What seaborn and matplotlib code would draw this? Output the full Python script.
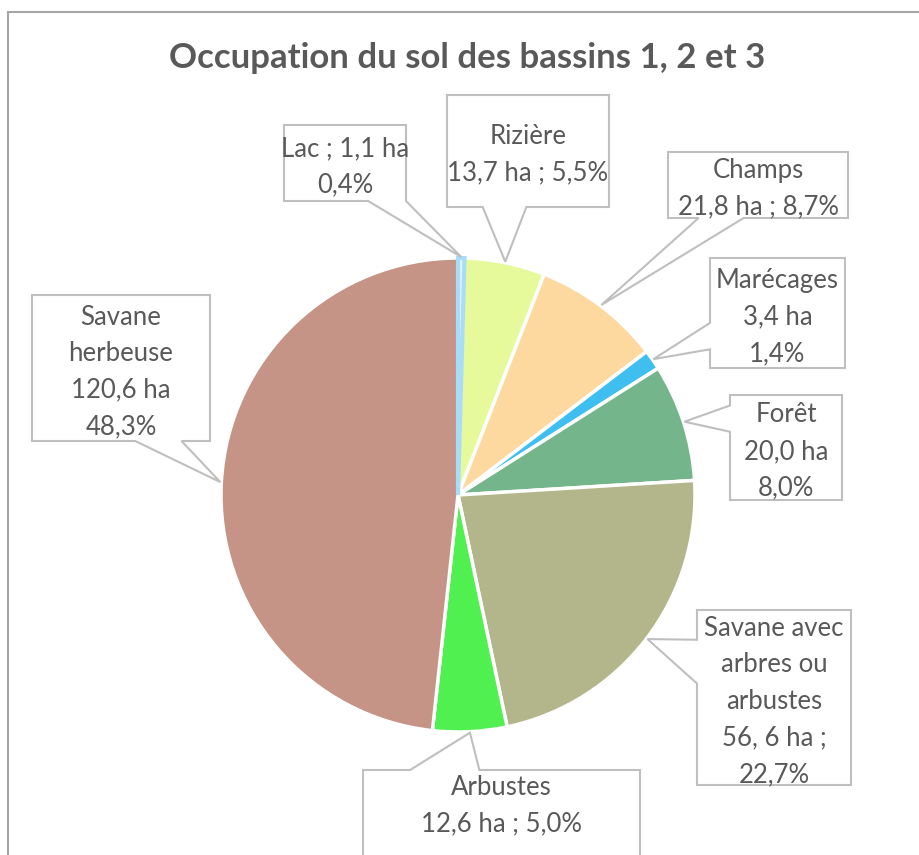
import numpy as np
import matplotlib
matplotlib.use("Agg")
import matplotlib.pyplot as plt
from matplotlib.patches import Polygon, Rectangle
import seaborn as sns

# Occupation du sol (ha), order clockwise from 12 o'clock
categories = ["Lac", "Rizière", "Champs", "Marécages", "Forêt",
              "Savane avec arbres ou arbustes", "Arbustes", "Savane herbeuse"]
surface_ha = [1.1, 13.7, 21.8, 3.4, 20.0, 56.6, 12.6, 120.6]
label_texts = [
    "Lac ; 1,1 ha\n0,4%",
    "Rizière\n13,7 ha ; 5,5%",
    "Champs\n21,8 ha ; 8,7%",
    "Marécages\n3,4 ha\n1,4%",
    "Forêt\n20,0 ha\n8,0%",
    "Savane avec\narbres ou\narbustes\n56, 6 ha ;\n22,7%",
    "Arbustes\n12,6 ha ; 5,0%",
    "Savane\nherbeuse\n120,6 ha\n48,3%",
]
slice_colors = ["#dff3fc", "#e6fa9b", "#fdd9a0", "#3fbff0",
                "#74b58b", "#b3b68a", "#4ff04f", "#c59486"]
title = "Occupation du sol des bassins 1, 2 et 3"

# layout (pixel coords, origin top-left)
W, H = 919, 855
cx, cy, R = 458, 495, 237
boxes = [
    (284, 125, 406, 201),
    (447, 95, 609, 207),
    (668, 152, 848, 218),
    (710, 258, 845, 368),
    (730, 395, 842, 500),
    (697, 610, 851, 785),
    (363, 770, 640, 880),
    (32, 295, 210, 441),
]
text_y = [None, None, None, None, None, None, 806, None]
pointers = [
    ("bottom", 0.69, 1.0),
    ("bottom", 0.22, 0.49),
    ("bottom", 0.17, 0.42),
    ("left", 0.59, 0.83),
    ("left", 0.10, 0.35),
    ("left", 0.17, 0.42),
    ("top", 0.17, 0.42),
    ("bottom", 0.58, 0.84),
]

sns.set_style("white")
plt.rcParams['font.family'] = ['Lato', 'DejaVu Sans']
text_color = "#595959"
edge_color = "#bfbfbf"

fig = plt.figure(figsize=(W / 100, H / 100), dpi=100)
ax = fig.add_axes([0, 0, 1, 1])

wedges, _ = ax.pie(surface_ha, colors=sns.color_palette(slice_colors),
                   startangle=90, counterclock=False,
                   center=(cx, H - cy), radius=R,
                   wedgeprops=dict(edgecolor="white", linewidth=2.5))
# thin lake slice is drawn with a light blue outline
wedges[0].set_edgecolor("#a9dcf6")
wedges[0].set_linewidth(3)
wedges[0].set_zorder(2)
ax.set_xlim(0, W)
ax.set_ylim(0, H)
ax.set_aspect("equal")
ax.axis("off")


def callout(box, pointer, tip):
    x0, y0, x1, y1 = box
    side, f0, f1 = pointer
    w, h = x1 - x0, y1 - y0
    pts = [(x0, y0)]
    if side == "top":
        pts += [(x0 + f0 * w, y0), tip, (x0 + f1 * w, y0)]
    pts.append((x1, y0))
    if side == "right":
        pts += [(x1, y0 + f0 * h), tip, (x1, y0 + f1 * h)]
    pts.append((x1, y1))
    if side == "bottom":
        pts += [(x0 + f1 * w, y1), tip, (x0 + f0 * w, y1)]
    pts.append((x0, y1))
    if side == "left":
        pts += [(x0, y0 + f1 * h), tip, (x0, y0 + f0 * h)]
    pts = [(px, H - py) for px, py in pts]
    ax.add_patch(Polygon(pts, closed=True, facecolor="white",
                         edgecolor=edge_color, linewidth=1.5, zorder=3))


for wedge, box, ptr, txt, ty in zip(wedges, boxes, pointers, label_texts, text_y):
    mid = np.deg2rad((wedge.theta1 + wedge.theta2) / 2)
    tip = (cx + (R + 1) * np.cos(mid), cy - (R + 1) * np.sin(mid))
    callout(box, ptr, tip)
    tx = (box[0] + box[2]) / 2
    if ty is None:
        ty = (box[1] + box[3]) / 2 + 4
    ax.text(tx, H - ty, txt, ha="center", va="center", fontsize=18.5,
            color=text_color, linespacing=1.58, zorder=4)

ax.add_patch(Rectangle((8, -20), 940, H - 12 + 20, fill=False,
                       edgecolor="#a6a6a6", linewidth=1.5, zorder=5))
ax.text(467, H - 58, title, ha="center", va="center", fontsize=25,
        fontweight="bold", color=text_color)

fig.savefig("out.png", dpi=100, facecolor="white")
